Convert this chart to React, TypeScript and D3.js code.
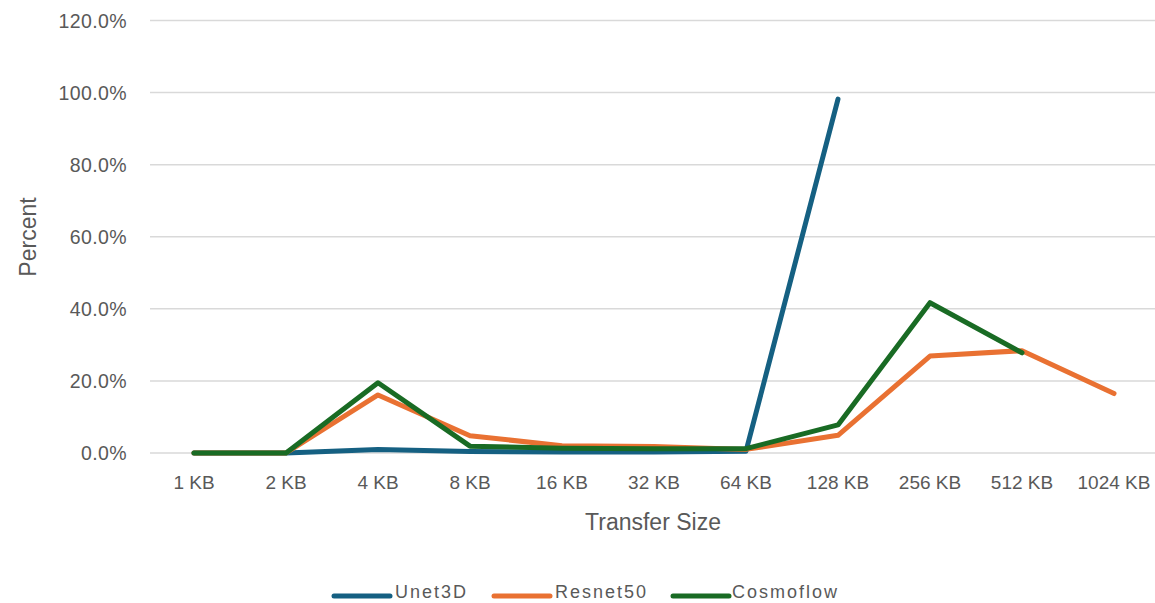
import React from "react";
import * as d3 from "d3";

const categories = ["1 KB", "2 KB", "4 KB", "8 KB", "16 KB", "32 KB", "64 KB", "128 KB", "256 KB", "512 KB", "1024 KB"];
const unet3d = [0, 0, 1.0, 0.4, 0.3, 0.3, 0.5, 98.2];
const resnet50 = [0, 0, 16.1, 4.8, 2.0, 1.8, 1.0, 4.9, 26.9, 28.4, 16.5];
const cosmoflow = [0, 0, 19.5, 1.9, 1.3, 1.2, 1.2, 7.8, 41.7, 27.8];
const yTicks = [0, 20, 40, 60, 80, 100, 120];

const seriesList = [
  { name: "Unet3D", values: unet3d, color: "#156082" },
  { name: "Resnet50", values: resnet50, color: "#E97132" },
  { name: "Cosmoflow", values: cosmoflow, color: "#196B24" },
];

const W = 1155;
const H = 603;
const FONT = "'Liberation Sans', Arial, sans-serif";
const TEXT = "#595959";

export default function App() {
  const x = d3.scalePoint<string>().domain(categories).range([194, 1114]);
  const y = d3.scaleLinear().domain([0, 120]).range([453, 20.5]);

  const line = d3
    .line<number>()
    .x((_, i) => x(categories[i]) as number)
    .y((v) => y(v));

  // legend swatch start and label start for each series
  const legendItems = [
    { x: 334, text: 395 },
    { x: 494, text: 555 },
    { x: 673, text: 732 },
  ];

  return (
    <svg
      width={W}
      height={H}
      style={{ position: "absolute", left: 0, top: 0, background: "#fff" }}
      fontFamily={FONT}
    >
      {yTicks.map((t) => (
        <g key={t}>
          <line x1={150} x2={W} y1={y(t)} y2={y(t)} stroke="#d9d9d9" strokeWidth={1.5} />
          <text x={127} y={y(t)} dy="0.36em" textAnchor="end" fontSize={19.5} fill={TEXT} letterSpacing={0.4}>
            {t.toFixed(1) + "%"}
          </text>
        </g>
      ))}
      {categories.map((c) => (
        <text key={c} x={x(c)} y={489} textAnchor="middle" fontSize={19} fill={TEXT}>
          {c}
        </text>
      ))}
      <text x={653} y={530} textAnchor="middle" fontSize={23} fill={TEXT}>
        Transfer Size
      </text>
      <text
        transform={`translate(36,237) rotate(-90)`}
        textAnchor="middle"
        fontSize={23}
        fill={TEXT}
      >
        Percent
      </text>
      {seriesList.map((s) => (
        <path
          key={s.name}
          d={line(s.values) || ""}
          fill="none"
          stroke={s.color}
          strokeWidth={5}
          strokeLinejoin="round"
          strokeLinecap="round"
        />
      ))}
      {seriesList.map((s, i) => (
        <g key={s.name}>
          <line
            x1={legendItems[i].x}
            x2={legendItems[i].x + 56}
            y1={596}
            y2={596}
            stroke={s.color}
            strokeWidth={5}
            strokeLinecap="round"
          />
          <text x={legendItems[i].text} y={598} fontSize={18} fill={TEXT} letterSpacing={2}>
            {s.name}
          </text>
        </g>
      ))}
    </svg>
  );
}
